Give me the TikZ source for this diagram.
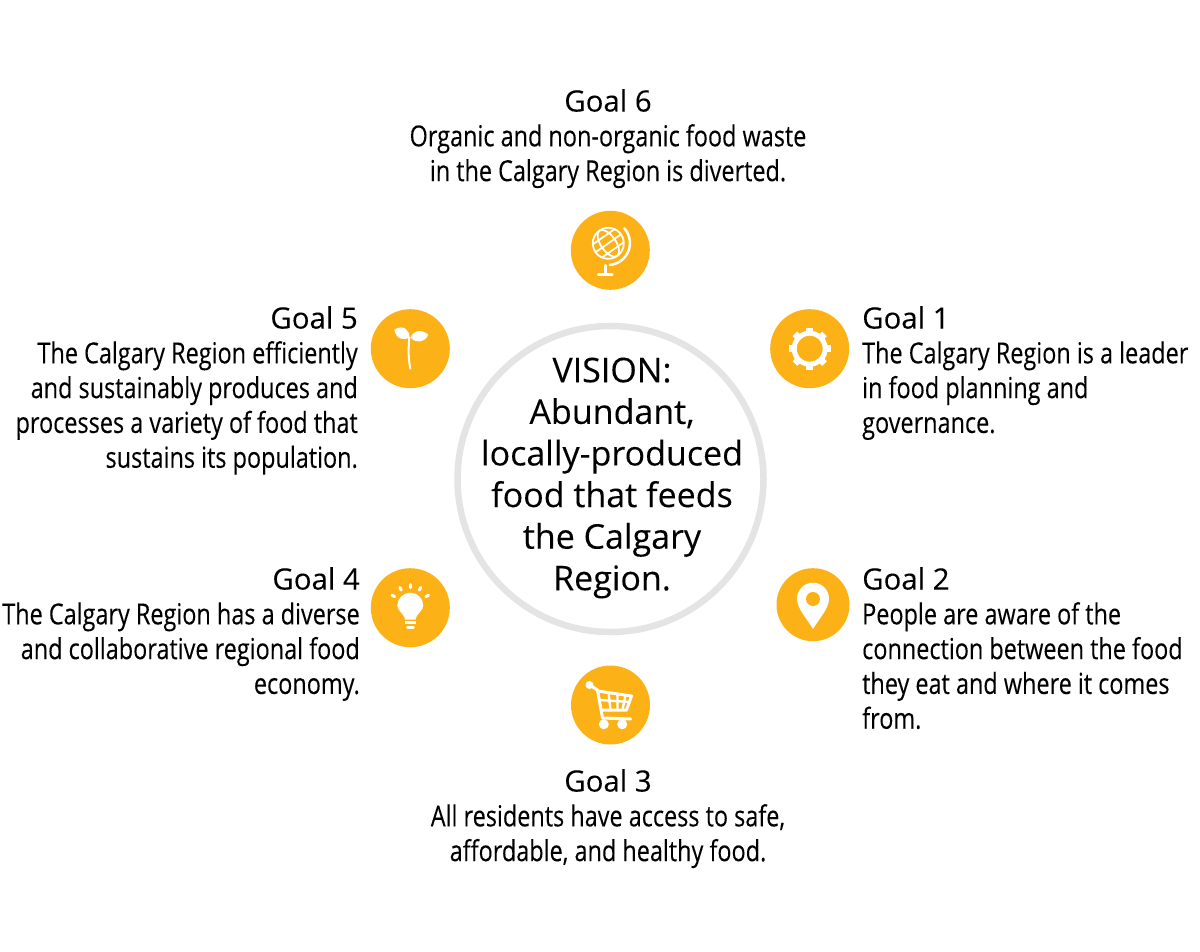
\documentclass[tikz,border=0pt]{standalone}
\usepackage{fontspec}
\usetikzlibrary{calc}
\setmainfont{Open Sans}
\newfontfamily\bodyfont[FakeStretch=0.808,FakeBold=0.12]{Open Sans}
\newfontfamily\headfont[FakeBold=0.1]{Open Sans}
\definecolor{goalyellow}{HTML}{FCB116}
\definecolor{ringgray}{HTML}{E4E4E4}
\begin{document}
\begin{tikzpicture}[x=1pt,y=-1pt]
\tikzstyle{every node}=[inner sep=0pt]
\tikzstyle{goalicon}=[circle,fill=goalyellow,minimum size=79pt]
\tikzstyle{goaltext}=[font=\bodyfont\fontsize{29}{34.8}\selectfont]
\tikzstyle{glyph}=[draw=white,line width=2.5pt,line cap=round,line join=round]
\newcommand{\goalhead}[1]{{\headfont\fontsize{29.4}{34.8}\selectfont #1}}
\useasboundingbox (0,0) rectangle (1200,952);
\fill[white] (0,0) rectangle (1200,952);

% vision
\draw (610.5,479) node (ring) [circle,draw=ringgray,line width=6.5pt,minimum size=306pt] {};
\draw (612,478) node (vision) [align=center,font=\headfont\fontsize{34}{41.6}\selectfont] {VISION:\\Abundant,\\locally-produced\\food that feeds\\the Calgary\\Region.};

% icons
\draw (610.3,250.3) node (globe) [goalicon] {};
\draw (809.7,348.7) node (gear) [goalicon] {};
\draw (813,604.7) node (pin) [goalicon,minimum size=73pt] {};
\draw (610.5,705) node (cart) [goalicon] {};
\draw (410.3,607.7) node (bulb) [goalicon] {};
\draw (410.3,348.7) node (sprout) [goalicon] {};

% globe
\begin{scope}[shift={(globe.center)},glyph,line width=1.8pt]
\draw (-2,-7) circle (15.5);
\draw[rotate around={35:(-2,-7)}] (-2,-7) ellipse (7.5 and 15.5);
\draw[rotate around={35:(-2,-7)}] (-17.5,-7) -- (13.5,-7);
\draw[rotate around={35:(-2,-7)}] (-15,-15) -- (11,-15) (-15,1) -- (11,1);
\draw[line width=2.5pt] (14,-22) arc (-42:85:22);
\draw[line width=2.5pt] (-5,15) -- (-5,24) (-12,24) -- (2,24);
\end{scope}

% gear
\begin{scope}[shift={(gear.center)},glyph]
\draw[line width=5pt] (0,0) circle (15.5);
\foreach \a in {0,45,...,315}
  \draw[line width=6.5pt,line cap=butt] (\a:16) -- (\a:21);
\end{scope}

% pin
\begin{scope}[shift={(pin.center)}]
\fill[white] (0,24.3) .. controls (-6,14) and (-16,4) .. (-16,-6)
  arc (180:360:16) .. controls (16,4) and (6,14) .. (0,24.3);
\fill[goalyellow] (0,-5.7) circle (7);
\end{scope}

% cart
\begin{scope}[shift={(cart.center)},xshift=1pt,glyph]
\fill[white] (-22,-20) circle (4);
\draw[line width=3pt] (-22,-20) -- (-14,-15) -- (-9,13) -- (19,14);
\draw[line width=3pt] (-14,-14) -- (20,-9) -- (15,5) -- (-10,5);
\draw[line width=2.4pt] (-12,-5) -- (18,-3) (-3,-12.5) -- (-1,5) (6,-11.5) -- (6,5) (14,-10) -- (11,5);
\fill[white] (-7.7,19.3) circle (5) (10.7,19.3) circle (5);
\end{scope}

% bulb
\begin{scope}[shift={(bulb.center)},glyph]
\fill[white] (-5,12) .. controls (-6,6) and (-13,3) .. (-13,-2) arc (180:360:13)
  .. controls (13,3) and (6,6) .. (5,12) -- cycle;
\draw[line width=3pt,line cap=butt] (-5.5,15) -- (5.5,15);
\draw[line width=3pt] (-3,20) -- (3,20);
\foreach \a in {-150,-120,-90,-60,-30}
  \draw[line width=3pt] ($(0,-2)+(\a:18)$) -- ($(0,-2)+(\a:21)$);
\end{scope}

% sprout
\begin{scope}[shift={(sprout.center)}]
\draw[glyph,line width=2pt] (0,20) .. controls (-2,10) and (-2,0) .. (-1,-11);
\fill[white] (-16,-19) .. controls (-7,-25) and (0,-18) .. (-1,-11)
  .. controls (-6,-8) and (-14,-9) .. (-16,-19);
\fill[white] (18,-14) .. controls (10,-21) and (2,-17) .. (0,-11)
  .. controls (4,-6) and (14,-5) .. (18,-14);
\end{scope}

% goals
\draw (608,89) node (goalsix) [goaltext,anchor=north,align=center] {\goalhead{Goal 6}\\Organic and non-organic food waste\\in the Calgary Region is diverted.};
\draw (862,306) node (goalone) [goaltext,anchor=north west,align=left] {\goalhead{Goal 1}\\The Calgary Region is a leader\\in food planning and\\governance.};
\draw (862,567) node (goaltwo) [goaltext,anchor=north west,align=left] {\goalhead{Goal 2}\\People are aware of the\\connection between the food\\they eat and where it comes\\from.};
\draw (608,769) node (goalthree) [goaltext,anchor=north,align=center] {\goalhead{Goal 3}\\All residents have access to safe,\\affordable, and healthy food.};
\draw (360,567) node (goalfour) [goaltext,anchor=north east,align=right] {\goalhead{Goal 4}\\The Calgary Region has a diverse\\and collaborative regional food\\economy.};
\draw (358,306) node (goalfive) [goaltext,anchor=north east,align=right] {\goalhead{Goal 5}\\The Calgary Region efficiently\\and sustainably produces and\\processes a variety of food that\\sustains its population.};
\end{tikzpicture}
\end{document}
